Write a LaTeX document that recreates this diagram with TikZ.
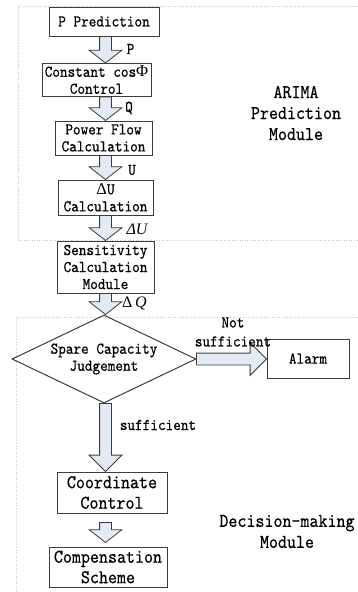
\documentclass[tikz,border=0pt]{standalone}
\usepackage{fontspec}
\newfontfamily\flowfont[Extension=.otf, FakeStretch=0.88, FakeBold=0.5]{lmmono10-regular}
\newfontfamily\qtyfont{Liberation Serif}
\usepackage{xcolor}
\usepackage{tikz}
\usetikzlibrary{calc,shapes.geometric,shapes.arrows}

\definecolor{arrowfill}{RGB}{226,234,245}
\definecolor{edgegray}{RGB}{60,60,60}
\definecolor{framegray}{RGB}{200,200,200}

\begin{document}
\begin{tikzpicture}[x=1pt, y=-1pt,
    box/.style={draw=edgegray, line width=1pt, rectangle, align=center, inner sep=0pt, font=\flowfont\fontsize{16.5}{17}\selectfont},
    bigbox/.style={box, font=\flowfont\fontsize{19.5}{20.5}\selectfont},
    judge/.style={box, diamond, aspect=2.09, minimum width=184pt, minimum height=88pt},
    tag/.style={inner sep=0pt, align=center, font=\flowfont\fontsize{16.5}{19}\selectfont},
    qty/.style={inner sep=0pt, font=\qtyfont\fontsize{16}{16}\selectfont},
    module/.style={inner sep=0pt, align=center, font=\flowfont\fontsize{19.5}{21}\selectfont},
    frame/.style={draw=framegray, dotted, line width=0.6pt},
    fat/.style={single arrow, draw=edgegray, fill=arrowfill, line width=0.8pt, inner xsep=0pt, inner ysep=5.5pt, outer sep=0pt, single arrow head extend=10.5pt, single arrow tip angle=104},
    blockarrow/.style={to path={let \p1=($(\tikztotarget)-(\tikztostart)$), \n1={veclen(\x1,\y1)}, \n2={atan2(\y1,\x1)} in node[fat, minimum height=\n1, rotate=\n2, anchor=tail, #1] at (\tikztostart) {}}},
    blockarrow/.default={}]
  \useasboundingbox (0,0) rectangle (358,592);

  % module frames
  \draw[frame] (358,6) -- (18,6) -- (18,240) -- (358,240);
  \draw[frame] (358,317) -- (16,317) -- (16,592);

  \node[module] (arima) at (296,113) {ARIMA\\Prediction\\Module};
  \node[module] (dm) at (287,531.5) {Decision-making\\Module};

  % prediction chain
  \node[box, minimum width=110pt, minimum height=29pt] (pp) at (104,21.5) {P Prediction};
  \node[box, minimum width=109pt, minimum height=33pt] (cc) at (96.5,80) {Constant cos{\qtyfont Φ}\\Control};
  \node[box, minimum width=97pt, minimum height=34pt] (pf) at (103.5,138) {Power Flow\\Calculation};
  \node[box, minimum width=95pt, minimum height=35pt] (du) at (105.5,197.5) {{\qtyfont Δ}U\\Calculation};
  \node[box, minimum width=97pt, minimum height=52pt] (sc) at (105.5,267) {Sensitivity\\Calculation\\Module};

  % decision part
  \node[judge] (sj) at (104,359) {Spare Capacity\\Judgement};
  \node[box, minimum width=82pt, minimum height=39pt] (al) at (308,358.5) {Alarm};
  \node[bigbox, minimum width=110pt, minimum height=41pt] (co) at (112,492.5) {Coordinate\\Control};
  \node[bigbox, minimum width=118pt, minimum height=40pt] (cs) at (108,567) {Compensation\\Scheme};

  \coordinate (spine) at (105.5,0);
  \coordinate (cotail) at ($(co.south -| spine)+(0,9)$);
  \coordinate (cshead) at ($(cs.north -| spine)+(0,-4)$);

  \path (pp.south -| spine) to[blockarrow] (cc.north -| spine);
  \path (cc.south -| spine) to[blockarrow] (pf.north -| spine);
  \path (pf.south -| spine) to[blockarrow] (du.north -| spine);
  \path (du.south -| spine) to[blockarrow] (sc.north -| spine);
  \path (sc.south -| spine) to[blockarrow] (sj.north -| spine);
  \path (sj.south -| spine) to[blockarrow={single arrow tip angle=90}] (co.north -| spine);
  \path (sj.east) to[blockarrow={single arrow tip angle=90}] (al.west |- sj.east);
  \path (cotail) to[blockarrow] (cshead);

  % quantities passed along
  \node[tag] (lp) at (130.5,49) {P};
  \node[tag] (lq) at (129,108) {Q};
  \node[tag] (lu) at (132,170) {U};
  \node[qty] (ldu) at (137,229) {\itshape ΔU};
  \node[qty] (ldq) at (134.5,303) {Δ\,{\itshape Q}};
  \node[tag] (lns) at (233,332) {Not\\sufficient};
  \node[tag] (lsf) at (158,425) {sufficient};
\end{tikzpicture}
\end{document}
